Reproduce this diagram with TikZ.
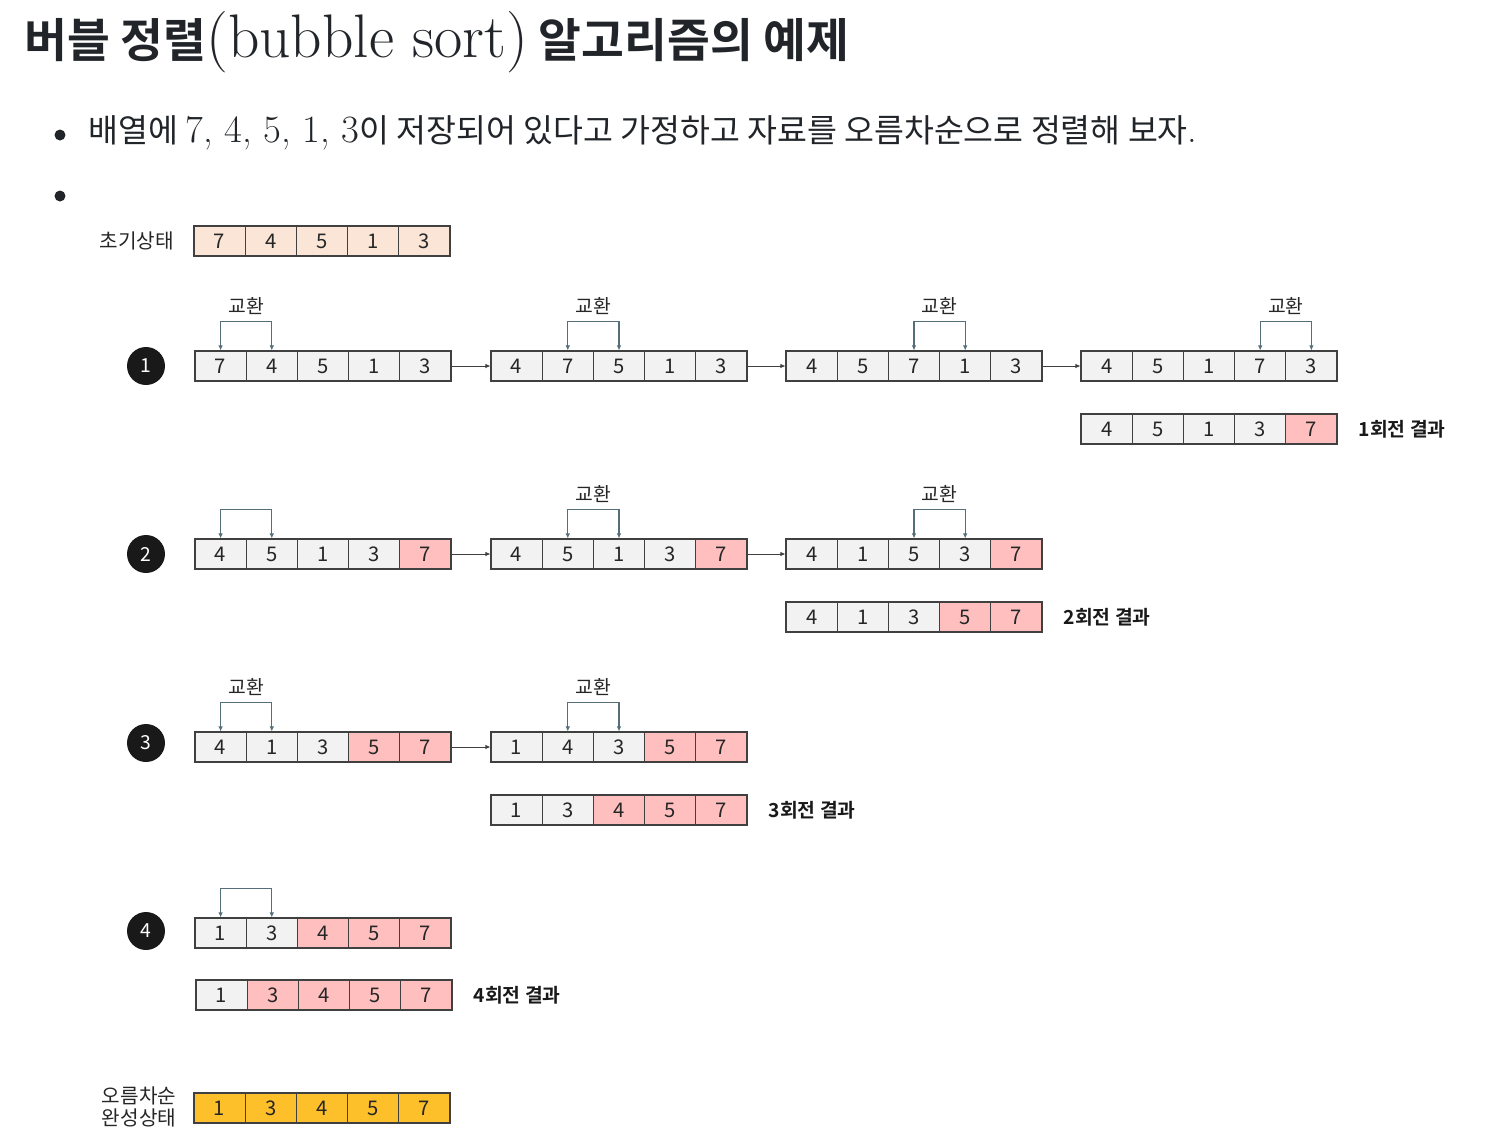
\documentclass[tikz,border=0pt]{standalone}
\usepackage{fontspec}
\usepackage{tikz}
\usetikzlibrary{arrows.meta,calc,positioning}
\newfontfamily\cjk{Noto Sans CJK KR}[BoldFont={Noto Sans CJK KR Bold}]
\definecolor{Ink}{RGB}{33,37,41}
\definecolor{cg}{RGB}{242,242,242}
\definecolor{cp}{RGB}{255,191,191}
\definecolor{co}{RGB}{251,229,214}
\definecolor{cy}{RGB}{253,192,42}
\definecolor{Swap}{RGB}{84,110,122}
\tikzset{
  cell/.style={draw=black!75,line width=0.6pt,minimum width=1.024cm,minimum height=0.6cm,
    inner sep=0pt,text=black!85,font=\cjk\fontsize{11.5}{12}\selectfont},
  swapline/.style={draw=Swap,line width=0.6pt,{Latex[length=1mm,width=0.9mm]}-{Latex[length=1mm,width=0.9mm]}},
  swaptext/.style={text=black!85,font=\cjk\fontsize{11}{12}\selectfont},
  flow/.style={draw=black!75,line width=0.5pt,-{Latex[length=1mm,width=0.9mm]}},
  passno/.style={circle,fill=black!90,text=white,minimum size=0.76cm,inner sep=0pt,
    font=\cjk\fontsize{11}{12}\selectfont},
  passtext/.style={text=black!90,font=\cjk\bfseries\fontsize{11}{13}\selectfont},
  sidetext/.style={text=black!85,font=\cjk\fontsize{11.5}{12.6}\selectfont}
}
\newcommand{\CellRow}[4]{% name left-x centre-y value/colour list
\foreach \v/\c [count=\i] in {#4}
  \node[cell,fill=\c] (#1-\i) at ({#2+(\i-0.5)*51.2},#3) {\v};
}
\newcommand{\SwapMark}[2]{% name left-cell
\pgfmathtruncatemacro{\nxt}{#2+1}
\draw[swapline] (#1-#2.north) -- ++(0,-29) -| (#1-\nxt.north);
}
\newcommand{\SwapNote}[2]{% name left-cell
\pgfmathtruncatemacro{\nxt}{#2+1}
\node[swaptext] (#1-note) at ($(#1-#2.north)!0.5!(#1-\nxt.north)+(0,-44)$) {교환};
}

\begin{document}
\begin{tikzpicture}[x=0.02cm,y=-0.02cm]
\useasboundingbox (0,0) rectangle (1488,1144);
% heading and bullets
\node[anchor=west,text=Ink,inner sep=0pt] (title) at (24,42)
  {\fontsize{35}{38}\selectfont{\cjk\bfseries\fontsize{26.5}{30}\selectfont 버블 정렬}(bubble sort){\cjk\bfseries\fontsize{26.5}{30}\selectfont{} 알고리즘의 예제}};
\fill[Ink] (60,135) circle (0.11cm);
\fill[Ink] (60,196) circle (0.11cm);
\node[anchor=west,text=Ink,inner sep=0pt] (item) at (88,133)
  {\cjk\fontsize{18.5}{22}\selectfont 배열에 {\rmfamily\fontsize{22}{24}\selectfont 7, 4, 5, 1, 3}이 저장되어 있다고 가정하고 자료를 오름차순으로 정렬해 보자{\rmfamily\fontsize{22}{24}\selectfont .}};
% start state
\node[sidetext,anchor=east] (start) at (180,241) {초기상태};
\CellRow{s}{194}{241}{7/co,4/co,5/co,1/co,3/co}
% pass 1
\node[passno] (n1) at (146,366) {1};
\CellRow{a1}{195}{366}{7/cg,4/cg,5/cg,1/cg,3/cg}
\CellRow{a2}{491}{366}{4/cg,7/cg,5/cg,1/cg,3/cg}
\CellRow{a3}{786}{366}{4/cg,5/cg,7/cg,1/cg,3/cg}
\CellRow{a4}{1081}{366}{4/cg,5/cg,1/cg,7/cg,3/cg}
\CellRow{ar}{1081}{429}{4/cg,5/cg,1/cg,3/cg,7/cp}
\SwapMark{a1}{1} \SwapNote{a1}{1}
\SwapMark{a2}{2} \SwapNote{a2}{2}
\SwapMark{a3}{3} \SwapNote{a3}{3}
\SwapMark{a4}{4} \SwapNote{a4}{4}
\draw[flow] (a1-5.east) -- (a2-1.west);
\draw[flow] (a2-5.east) -- (a3-1.west);
\draw[flow] (a3-5.east) -- (a4-1.west);
\node[passtext,anchor=west,right=0.3cm of ar-5] (r1) {1회전 결과};
% pass 2
\node[passno] (n2) at (146,554) {2};
\CellRow{b1}{195}{554}{4/cg,5/cg,1/cg,3/cg,7/cp}
\CellRow{b2}{491}{554}{4/cg,5/cg,1/cg,3/cg,7/cp}
\CellRow{b3}{786}{554}{4/cg,1/cg,5/cg,3/cg,7/cp}
\CellRow{br}{786}{617}{4/cg,1/cg,3/cg,5/cp,7/cp}
\SwapMark{b1}{1}
\SwapMark{b2}{2} \SwapNote{b2}{2}
\SwapMark{b3}{3} \SwapNote{b3}{3}
\draw[flow] (b1-5.east) -- (b2-1.west);
\draw[flow] (b2-5.east) -- (b3-1.west);
\node[passtext,anchor=west,right=0.3cm of br-5] (r2) {2회전 결과};
% pass 3
\node[passno] (n3) at (146,743) {3};
\CellRow{c1}{195}{747}{4/cg,1/cg,3/cg,5/cp,7/cp}
\CellRow{c2}{491}{747}{1/cg,4/cg,3/cg,5/cp,7/cp}
\CellRow{cr}{491}{810}{1/cg,3/cg,4/cp,5/cp,7/cp}
\SwapMark{c1}{1} \SwapNote{c1}{1}
\SwapMark{c2}{2} \SwapNote{c2}{2}
\draw[flow] (c1-5.east) -- (c2-1.west);
\node[passtext,anchor=west,right=0.3cm of cr-5] (r3) {3회전 결과};
% pass 4
\node[passno] (n4) at (146,931) {4};
\CellRow{d1}{195}{933}{1/cg,3/cg,4/cp,5/cp,7/cp}
\CellRow{dr}{196}{995}{1/cg,3/cp,4/cp,5/cp,7/cp}
\SwapMark{d1}{1}
\node[passtext,anchor=west,right=0.3cm of dr-5] (r4) {4회전 결과};
% sorted state
\node[sidetext,align=center] (done) at (139,1107) {오름차순\\완성상태};
\CellRow{f}{194}{1108}{1/cy,3/cy,4/cy,5/cy,7/cy}
\end{tikzpicture}
\end{document}
